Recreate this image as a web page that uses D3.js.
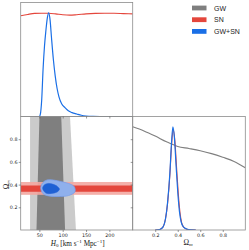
<!DOCTYPE html>
<html>
<head>
<meta charset="utf-8">
<script src="https://d3js.org/d3.v7.min.js"></script>
<style>
  body { margin: 0; background: #fff; }
  svg { display: block; }
</style>
</head>
<body>
<svg width="249" height="250"></svg>
<script>
  // ---- data ----
  var h0Ticks = [50, 100, 150, 200];
  var omTicks = [0.2, 0.4, 0.6, 0.8];
  var legendNames = ["GW", "SN", "GW+SN"];

  // H0 marginals (relative density)
  var h0Joint = [[40,0],[50,0],[52,0.02],[55,0.16],[58,0.46],[61,0.68],[64,0.83],[67,0.95],[70,1.0],[73,0.93],[76,0.76],[80,0.55],[84,0.39],[88,0.27],[92,0.19],[98,0.12],[105,0.085],[112,0.055],[120,0.037],[130,0.024],[140,0.012],[150,0.005],[165,0.001],[180,0],[250,0]];
  var h0SN = [[10,0.972],[25,0.985],[40,0.995],[55,0.997],[70,0.996],[85,0.99],[100,0.982],[115,0.978],[130,0.982],[150,0.99],[170,0.995],[190,0.997],[210,0.996],[230,0.993],[250,0.99]];

  // Omega_m marginals
  var omGW = [[0,1.0],[0.1,0.96],[0.2,0.91],[0.3,0.855],[0.4,0.81],[0.5,0.79],[0.6,0.768],[0.7,0.74],[0.8,0.705],[0.9,0.665],[1.0,0.604]];
  var omSN = [[0.2,0],[0.24,0.005],[0.27,0.03],[0.29,0.1],[0.31,0.26],[0.33,0.53],[0.345,0.82],[0.36,0.97],[0.375,0.86],[0.39,0.6],[0.405,0.35],[0.42,0.17],[0.435,0.07],[0.455,0.025],[0.48,0.008],[0.52,0.001],[0.56,0]];
  var omJoint = [[0.2,0],[0.24,0.005],[0.27,0.03],[0.29,0.1],[0.31,0.27],[0.33,0.55],[0.345,0.85],[0.357,1.0],[0.37,0.9],[0.385,0.63],[0.4,0.37],[0.415,0.18],[0.43,0.08],[0.45,0.03],[0.48,0.01],[0.52,0.002],[0.56,0]];

  // 2D credible regions, [H0, Omega_m]
  var gwOuter = [[30,1.05],[115,1.05],[129,-0.05],[30,-0.05]];
  var gwInner = [[50.5,1.05],[96.5,1.05],[105.5,-0.05],[43.5,-0.05]];
  var snOuter = [0.31, 0.423];
  var snInner = [0.337, 0.392];
  var jointOuter = [[53,0.37],[57,0.415],[66,0.44],[80,0.44],[98,0.425],[116,0.405],[125,0.38],[126,0.335],[112,0.303],[90,0.295],[70,0.3],[58,0.32]];
  var jointInner = [[57,0.365],[60,0.395],[69,0.41],[80,0.402],[89,0.382],[93,0.36],[88,0.335],[76,0.322],[64,0.325]];

  // ---- layout ----
  var L = 20.7, M = 132.7, R = 245.3;
  var T = 2.5, Mid = 116.5, B = 230;
  var spine = "#8c8c8c";
  var gwDark = "#7f7f7f", gwLight = "#cbcbcb";
  var snDark = "#e4463c", snLight = "#f3a7a1";
  var jDark = "#1f61d4", jLight = "#8fb0ec", jLine = "#1a6fe6";

  var svg = d3.select("svg");
  var xH = d3.scaleLinear().domain([10, 250]).range([L, M]);
  var xOm = d3.scaleLinear().domain([0, 1]).range([M, R]);
  var yOm = d3.scaleLinear().domain([0, 1]).range([B, Mid]);
  var yTop = d3.scaleLinear().domain([0, 1.1]).range([Mid, T]);
  var yBR = d3.scaleLinear().domain([0, 1.1]).range([B, Mid]);

  var defs = svg.append("defs");
  function clip(id, x, y, w, h) {
    defs.append("clipPath").attr("id", id).append("rect")
      .attr("x", x).attr("y", y).attr("width", w).attr("height", h);
  }
  clip("cTL", L, T, M - L, Mid - T);
  clip("cBL", L, Mid, M - L, B - Mid);
  clip("cBR", M, Mid, R - M, B - Mid);

  // ---- bottom-left: joint H0 / Omega_m ----
  var gBL = svg.append("g").attr("clip-path", "url(#cBL)");
  var poly = d3.line().x(function(d) { return xH(d[0]); }).y(function(d) { return yOm(d[1]); });
  var blob = d3.line().curve(d3.curveCatmullRomClosed).x(function(d) { return xH(d[0]); }).y(function(d) { return yOm(d[1]); });

  gBL.append("path").attr("d", poly(gwOuter) + "Z").style("fill", gwLight);
  gBL.append("path").attr("d", poly(gwInner) + "Z").style("fill", gwDark);

  gBL.append("rect")
    .attr("x", xH(10)).attr("width", xH(250) - xH(10))
    .attr("y", yOm(snOuter[1])).attr("height", yOm(snOuter[0]) - yOm(snOuter[1]))
    .style("fill", snLight).style("opacity", 0.9);
  gBL.append("rect")
    .attr("x", xH(10)).attr("width", xH(250) - xH(10))
    .attr("y", yOm(snInner[1])).attr("height", yOm(snInner[0]) - yOm(snInner[1]))
    .style("fill", snDark);

  gBL.append("path").attr("d", blob(jointOuter))
    .style("fill", jLight).style("stroke", "#7aa0ea").style("stroke-width", 0.8);
  gBL.append("path").attr("d", blob(jointInner))
    .style("fill", jDark).style("stroke", "#2a66d8").style("stroke-width", 0.6);

  // ---- top-left: H0 marginal ----
  var gTL = svg.append("g").attr("clip-path", "url(#cTL)");
  var lineTL = d3.line().curve(d3.curveMonotoneX).x(function(d) { return xH(d[0]); }).y(function(d) { return yTop(d[1]); });
  gTL.append("path").datum(h0SN).attr("d", lineTL)
    .style("fill", "none").style("stroke", snDark).style("stroke-width", 1.1);
  gTL.append("path").datum(h0Joint).attr("d", lineTL)
    .style("fill", "none").style("stroke", jLine).style("stroke-width", 1.2);

  // ---- bottom-right: Omega_m marginal ----
  var gBR = svg.append("g").attr("clip-path", "url(#cBR)");
  var lineBR = d3.line().curve(d3.curveMonotoneX).x(function(d) { return xOm(d[0]); }).y(function(d) { return yBR(d[1]); });
  gBR.append("path").datum(omGW).attr("d", lineBR)
    .style("fill", "none").style("stroke", gwDark).style("stroke-width", 1.1);
  gBR.append("path").datum(omSN).attr("d", lineBR)
    .style("fill", "none").style("stroke", snDark).style("stroke-width", 1.1);
  gBR.append("path").datum(omJoint).attr("d", lineBR)
    .style("fill", "none").style("stroke", jLine).style("stroke-width", 1.2);

  // ---- frames ----
  [[L, T, M - L, Mid - T], [L, Mid, M - L, B - Mid], [M, Mid, R - M, B - Mid]].forEach(function(b) {
    svg.append("rect").attr("x", b[0]).attr("y", b[1]).attr("width", b[2]).attr("height", b[3])
      .style("fill", "none").style("stroke", spine).style("stroke-width", 0.8);
  });

  // ---- axes ----
  function styleAxis(g) {
    g.select(".domain").remove();
    g.selectAll(".tick line").attr("stroke", "#555").attr("stroke-width", 0.6);
    g.selectAll(".tick text").attr("fill", "#222")
      .style("font-family", "DejaVu Sans, sans-serif").style("font-size", "4.8px");
  }
  svg.append("g").attr("transform", "translate(0," + Mid + ")")
    .call(d3.axisTop(xH).tickValues(h0Ticks).tickSize(-2).tickFormat("")).call(styleAxis);
  svg.append("g").attr("transform", "translate(0," + B + ")")
    .call(d3.axisBottom(xH).tickValues(h0Ticks).tickSize(2).tickPadding(1.2).tickFormat(d3.format("d"))).call(styleAxis);
  svg.append("g").attr("transform", "translate(" + L + ",0)")
    .call(d3.axisLeft(yOm).tickValues(omTicks).tickSize(2).tickPadding(1.2).tickFormat(d3.format(".1f"))).call(styleAxis);
  svg.append("g").attr("transform", "translate(" + M + ",0)")
    .call(d3.axisLeft(yOm).tickValues(omTicks).tickSize(2).tickFormat("")).call(styleAxis);
  svg.append("g").attr("transform", "translate(0," + B + ")")
    .call(d3.axisBottom(xOm).tickValues(omTicks).tickSize(2).tickPadding(1.2).tickFormat(d3.format(".1f"))).call(styleAxis);

  // ---- axis labels ----
  var serif = "Liberation Serif, DejaVu Serif, serif";
  var hl = svg.append("text").attr("x", (L + M) / 2 + 1).attr("y", 245.5)
    .attr("text-anchor", "middle").style("font-family", serif).style("font-size", "7.2px").attr("fill", "#111");
  hl.append("tspan").style("font-style", "italic").text("H");
  hl.append("tspan").attr("dy", 1.4).style("font-size", "5px").text("0");
  hl.append("tspan").attr("dy", -1.4).text(" [km s");
  hl.append("tspan").attr("dy", -2.6).style("font-size", "5px").text("\u22121");
  hl.append("tspan").attr("dy", 2.6).text(" Mpc");
  hl.append("tspan").attr("dy", -2.6).style("font-size", "5px").text("\u22121");
  hl.append("tspan").attr("dy", 2.6).text("]");

  var ol = svg.append("text").attr("x", (M + R) / 2 - 1).attr("y", 244.5)
    .attr("text-anchor", "middle").style("font-family", serif).style("font-size", "7.5px").attr("fill", "#111");
  ol.append("tspan").text("\u03a9");
  ol.append("tspan").attr("dy", 1.5).style("font-size", "5px").style("font-style", "italic").text("m");

  var yl = svg.append("text").attr("transform", "translate(8.5," + yOm(0.4) + ") rotate(-90)")
    .attr("text-anchor", "middle").style("font-family", serif).style("font-size", "7.5px").attr("fill", "#111");
  yl.append("tspan").text("\u03a9");
  yl.append("tspan").attr("dy", 1.5).style("font-size", "5px").style("font-style", "italic").text("m");

  // ---- legend ----
  var legendColors = [gwDark, snDark, jLine];
  var lg = svg.append("g").selectAll("g").data(legendNames).enter().append("g")
    .attr("transform", function(d, i) { return "translate(192," + (8 + i * 11.7) + ")"; });
  lg.append("rect").attr("x", 0).attr("y", -2.4).attr("width", 14.5).attr("height", 4.8)
    .style("fill", function(d, i) { return legendColors[i]; });
  lg.append("text").attr("x", 22).attr("y", 2.5)
    .style("font-family", "Liberation Sans, Arial, sans-serif").style("font-size", "7px").attr("fill", "#222")
    .text(function(d) { return d; });
</script>
</body>
</html>
